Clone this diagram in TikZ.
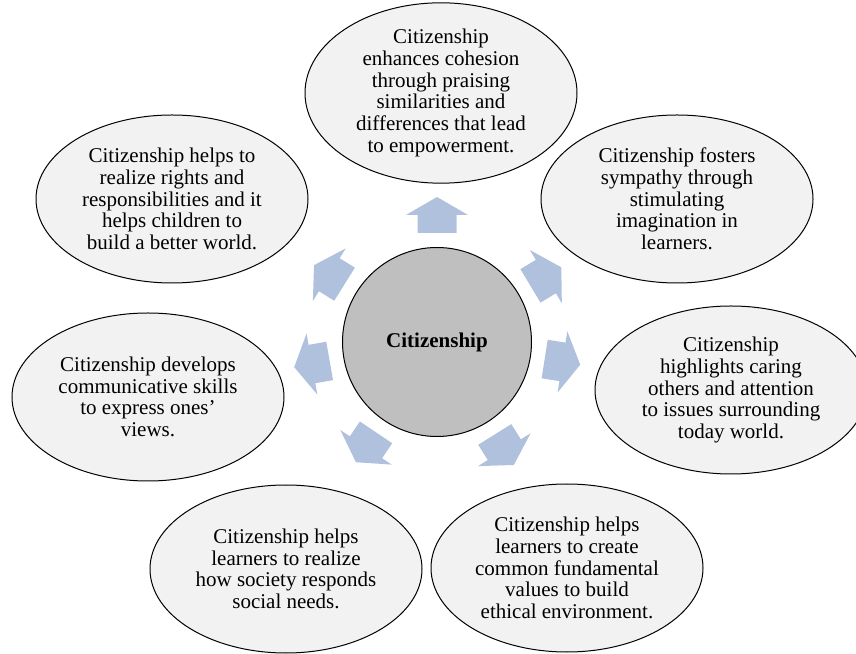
\documentclass[tikz,border=0pt]{standalone}
\usepackage{fontspec}
\setmainfont{Liberation Serif}
\usetikzlibrary{shapes.geometric}
\definecolor{bubblegray}{RGB}{242,242,242}
\definecolor{hubgray}{RGB}{191,191,191}
\definecolor{arrowblue}{RGB}{176,193,221}

\begin{document}
\begin{tikzpicture}[x=1pt,y=1pt,
  idea/.style={ellipse,draw,line width=1pt,fill=bubblegray,minimum width=272pt,minimum height=168pt,inner sep=0pt,align=center,font=\fontsize{21}{21.7}\selectfont},
  hub/.style={circle,draw,line width=1pt,fill=hubgray,minimum size=189pt,inner sep=0pt,font=\fontsize{21}{21.7}\selectfont\bfseries},
  blockarrow/.style={fill=arrowblue}]
  \useasboundingbox (0,0) rectangle (856,653);
  \node[hub] (core) at (437,311) {Citizenship};

  \node[idea] (cohesion) at (441,560) {Citizenship\\enhances cohesion\\through praising\\similarities and\\differences that lead\\to empowerment.};
  \node[idea] (sympathy) at (677,454) {Citizenship fosters\\sympathy through\\stimulating\\imagination in\\learners.};
  \node[idea] (caring) at (731,263) {Citizenship\\highlights caring\\others and attention\\to issues surrounding\\today world.};
  \node[idea] (values) at (567,85) {Citizenship helps\\learners to create\\common fundamental\\values to build\\ethical environment.};
  \node[idea] (society) at (286,84) {Citizenship helps\\learners to realize\\how society responds\\social needs.};
  \node[idea] (skills) at (148,256) {Citizenship develops\\communicative skills\\to express ones’\\views.};
  \node[idea] (rights) at (172,454) {Citizenship helps to\\realize rights and\\responsibilities and it\\helps children to\\build a better world.};

  % block arrows round the hub
  \foreach \ang in {90,31,-9,-58,-124,-170,148}
    \fill[blockarrow,shift={(core.center)},rotate=\ang] (109,-19.5) -- (127,-19.5) -- (127,-31) -- (145,0) -- (127,31) -- (127,19.5) -- (109,19.5) -- cycle;
\end{tikzpicture}
\end{document}
